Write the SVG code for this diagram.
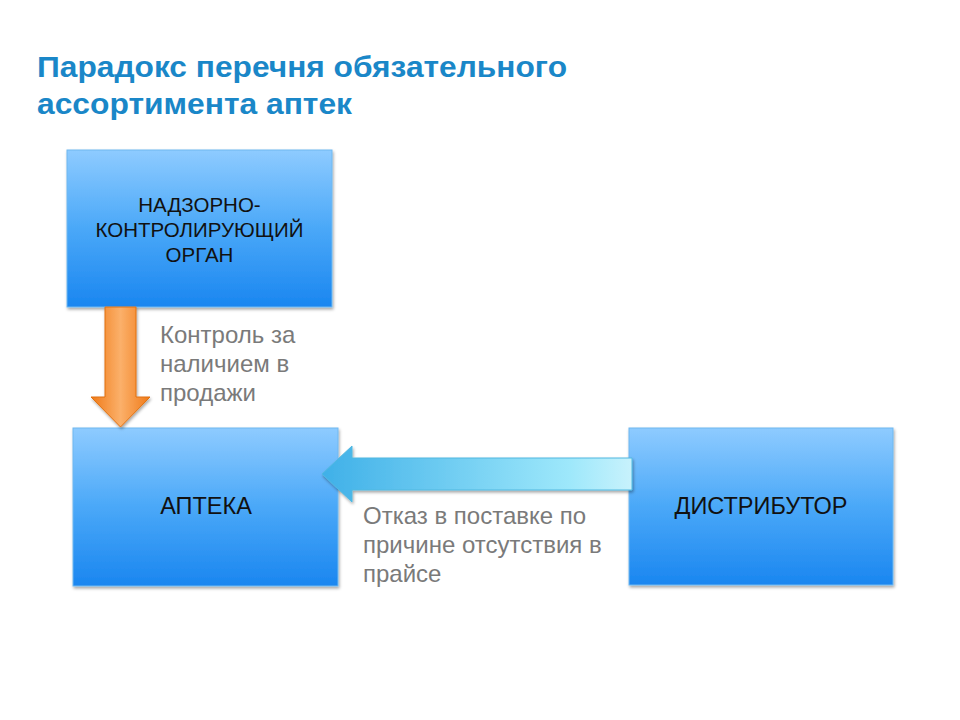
<svg xmlns="http://www.w3.org/2000/svg" width="960" height="720" viewBox="0 0 960 720">
<defs>
<linearGradient id="boxg" x1="0" y1="0" x2="0" y2="1">
<stop offset="0" stop-color="#8ecbff"/>
<stop offset="0.5" stop-color="#4aa8f8"/>
<stop offset="1" stop-color="#1a86f0"/>
</linearGradient>
<linearGradient id="orng" x1="0" y1="0" x2="1" y2="0">
<stop offset="0" stop-color="#f07a18"/>
<stop offset="0.5" stop-color="#fbb06a"/>
<stop offset="1" stop-color="#f07a18"/>
</linearGradient>
<linearGradient id="cyang" x1="0" y1="0" x2="1" y2="0">
<stop offset="0" stop-color="#3fb0e8"/>
<stop offset="0.8" stop-color="#9ee8fb"/>
<stop offset="1" stop-color="#c8f2fc"/>
</linearGradient>
<filter id="sh" x="-10%" y="-10%" width="120%" height="120%">
<feDropShadow dx="1" dy="2" stdDeviation="1.5" flood-color="#000" flood-opacity="0.35"/>
</filter>
</defs>
<style>
.box{fill:url(#boxg);stroke:#6fb8f0;stroke-width:1;filter:url(#sh)}
.bt{font-family:"Liberation Sans",Arial,sans-serif;font-size:20.5px;fill:#111;text-anchor:middle}
.bt2{font-family:"Liberation Sans",Arial,sans-serif;font-size:23.5px;fill:#111;text-anchor:middle}
.lab{font-family:"Liberation Sans",Arial,sans-serif;font-size:24px;fill:#7a7a7a}
.title{font-family:"Liberation Sans",Arial,sans-serif;font-size:29px;font-weight:bold;fill:#1a87c8}
</style>
<rect width="960" height="720" fill="#fff"/>
<g id="title">
<text class="title" x="37" y="77" textLength="530" lengthAdjust="spacingAndGlyphs">Парадокс перечня обязательного</text>
<text class="title" x="37" y="114" textLength="315" lengthAdjust="spacingAndGlyphs">ассортимента аптек</text>
</g>
<g id="node-nadzor">
<rect class="box" x="67" y="150" width="265" height="157"/>
<text class="bt" x="199.5" y="212">НАДЗОРНО-</text>
<text class="bt" x="199.5" y="237">КОНТРОЛИРУЮЩИЙ</text>
<text class="bt" x="199.5" y="262">ОРГАН</text>
</g>
<g id="node-apteka">
<rect class="box" x="73" y="428" width="265" height="158"/>
<text class="bt2" x="206" y="514">АПТЕКА</text>
</g>
<g id="node-distributor">
<rect class="box" x="629" y="428" width="264" height="157"/>
<text class="bt2" x="761" y="514">ДИСТРИБУТОР</text>
</g>
<g id="connectors">
<path d="M105,307 L136,307 L136,397 L150,397 L120.5,427 L91,397 L105,397 Z" fill="url(#orng)" stroke="#e07010" stroke-width="1" filter="url(#sh)"/>
<path d="M632,458 L352,458 L352,446 L322,474 L352,502 L352,490 L632,490 Z" fill="url(#cyang)" stroke="#50b8e0" stroke-width="1" filter="url(#sh)"/>
<text class="lab" x="160" y="343">Контроль за</text>
<text class="lab" x="160" y="372">наличием в</text>
<text class="lab" x="160" y="401">продажи</text>
<text class="lab" x="363" y="524">Отказ в поставке по</text>
<text class="lab" x="363" y="553">причине отсутствия в</text>
<text class="lab" x="363" y="582">прайсе</text>
</g>
</svg>
